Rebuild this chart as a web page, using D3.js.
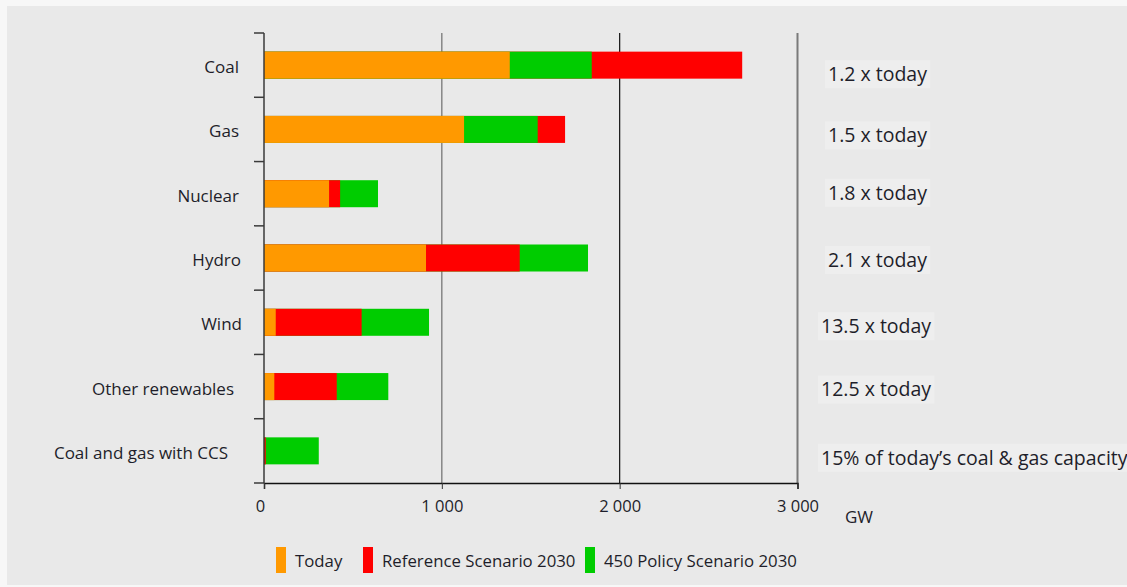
<!DOCTYPE html>
<html>
<head>
<meta charset="utf-8">
<script src="https://cdn.jsdelivr.net/npm/d3@7/dist/d3.min.js"></script>
<style>
  html, body { margin: 0; padding: 0; background: #ffffff; }
  svg { display: block; }
  text { font-family: "Open Sans", "Noto Sans", sans-serif; fill: #1e1e2a; }
</style>
</head>
<body>
<svg id="chart" width="1127" height="587"></svg>
<script>
// ---- data ----
const categories = ["Coal", "Gas", "Nuclear", "Hydro", "Wind", "Other renewables", "Coal and gas with CCS"];
const today      = [1382, 1125, 366, 911, 66, 58, 0];
const reference2030 = [2689, 1693, 428, 1438, 549, 409, 10];
const policy450_2030 = [1843, 1539, 641, 1822, 928, 699, 308];
const annotations = ["1.2 x today", "1.5 x today", "1.8 x today", "2.1 x today", "13.5 x today", "12.5 x today", "15% of today\u2019s coal & gas capacity"];
const xTicks = [0, 1000, 2000, 3000];
const seriesNames = ["Today", "Reference Scenario 2030", "450 Policy Scenario 2030"];
const seriesColors = ["#ff9900", "#ff0000", "#00cc00"];

// ---- layout ----
const svg = d3.select("#chart");
const W = 1127, H = 587;
const plot = { left: 264, right: 797.5, top: 33, bottom: 483 };
const labelX = [239, 239, 239, 241, 242, 234, 228];
const annotX = [828, 828, 828, 828, 821, 821, 821];
const annotDy = [9, 6, -1, 2, 4, 3, 7];
const legendX = [276, 363, 585];

// background
svg.append("rect").attr("x", 0).attr("y", 0).attr("width", W).attr("height", H).attr("fill", "#f7f7f7");
svg.append("rect").attr("x", 7).attr("y", 6).attr("width", W - 7).attr("height", H - 8).attr("fill", "#e9e9e9");

const x = d3.scaleLinear().domain([0, 3000]).range([plot.left, plot.right]);
const yBand = d3.scaleBand().domain(categories).range([plot.top, plot.bottom]).paddingInner(0.58).paddingOuter(0.29);
const ySlot = d3.scaleBand().domain(categories).range([plot.top, plot.bottom]).padding(0);

// gridlines
const gridColors = { 1000: "#6e6e6e", 2000: "#111111", 3000: "#7a7a7a" };
const gridWidths = { 1000: 1.2, 2000: 1.2, 3000: 2 };
svg.append("g").selectAll("line").data(xTicks.filter(d => d > 0)).join("line")
  .attr("x1", d => x(d)).attr("x2", d => x(d))
  .attr("y1", plot.top).attr("y2", plot.bottom)
  .attr("stroke", d => gridColors[d]).attr("stroke-width", d => gridWidths[d]);

// bars
const rows = categories.map((c, i) => ({ c, today: today[i], ref: reference2030[i], p450: policy450_2030[i], i }));
const gBars = svg.append("g");
rows.forEach(r => {
  const segs = [
    { v: r.ref, color: seriesColors[1] },
    { v: r.p450, color: seriesColors[2] }
  ].sort((a, b) => b.v - a.v);
  segs.forEach(s => {
    gBars.append("rect")
      .attr("x", x(0))
      .attr("y", yBand(r.c))
      .attr("width", x(s.v) - x(0))
      .attr("height", yBand.bandwidth())
      .attr("fill", s.color);
  });
  gBars.append("rect")
    .attr("x", x(0))
    .attr("y", yBand(r.c))
    .attr("width", x(r.today) - x(0))
    .attr("height", yBand.bandwidth())
    .attr("fill", seriesColors[0]);
});

// x axis
const xAxis = d3.axisBottom(x).tickValues(xTicks).tickSize(6).tickPadding(11)
  .tickFormat(d => d3.format(",")(d).replace(",", " "));
const gx = svg.append("g").attr("transform", `translate(0,${plot.bottom})`).call(xAxis);
gx.select(".domain").attr("stroke", "#111").attr("stroke-width", 1.5);
gx.selectAll(".tick line").attr("stroke", "#333");
gx.selectAll(".tick text").style("font-size", "16.5px").attr("fill", "#1e1e2a")
  .attr("font-family", "Open Sans");
gx.selectAll(".tick text").filter(d => d === 0).attr("dx", -4);

svg.append("text").attr("x", 845).attr("y", 523).style("font-size", "17px").text("GW");

// y axis line & ticks at slot boundaries
const boundaries = categories.map(c => ySlot(c)).concat([plot.bottom]);
svg.append("line").attr("x1", plot.left).attr("x2", plot.left).attr("y1", plot.top).attr("y2", plot.bottom)
  .attr("stroke", "#3a3a3a").attr("stroke-width", 1.5);
svg.append("g").selectAll("line").data(boundaries).join("line")
  .attr("x1", plot.left - 10).attr("x2", plot.left)
  .attr("y1", d => d).attr("y2", d => d)
  .attr("stroke", "#3a3a3a").attr("stroke-width", 1.5);

// category labels
svg.append("g").selectAll("text").data(categories).join("text")
  .attr("x", (d, i) => labelX[i])
  .attr("y", d => yBand(d) + yBand.bandwidth() / 2 + 2)
  .attr("dy", "0.35em")
  .attr("text-anchor", "end")
  .style("font-size", "17px")
  .text(d => d);

// annotations with light boxes
const gAnn = svg.append("g");
annotations.forEach((t, i) => {
  const cy = ySlot(categories[i]) + ySlot.bandwidth() / 2 + annotDy[i];
  const txt = gAnn.append("text")
    .attr("x", annotX[i]).attr("y", cy).attr("dy", "0.35em")
    .style("font-size", "19.5px").text(t);
  const bb = txt.node().getBBox();
  gAnn.insert("rect", "text")
    .attr("x", bb.x - 3).attr("y", cy - 14)
    .attr("width", bb.width + 6).attr("height", 28)
    .attr("fill", "#eeeeee");
});

// legend
const gLeg = svg.append("g");
seriesNames.forEach((n, i) => {
  gLeg.append("rect").attr("x", legendX[i]).attr("y", 547).attr("width", 10).attr("height", 26)
    .attr("fill", seriesColors[i]);
  gLeg.append("text").attr("x", legendX[i] + 19).attr("y", 561).attr("dy", "0.35em")
    .style("font-size", "16.8px").text(n);
});
</script>
</body>
</html>
